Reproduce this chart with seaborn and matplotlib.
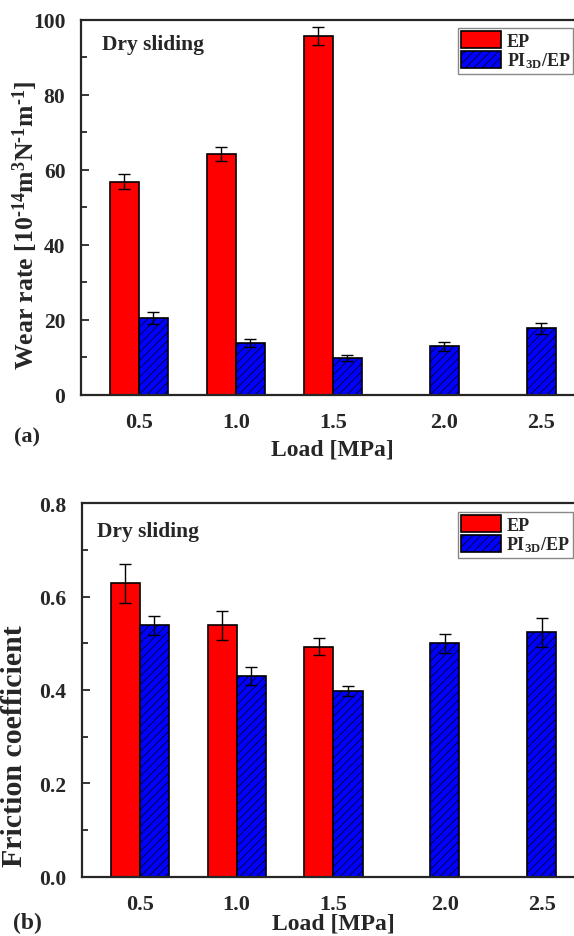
import numpy as np
import pandas as pd
import matplotlib
matplotlib.use("Agg")
import matplotlib.pyplot as plt
import seaborn as sns

# --- Data ---
loads = ["0.5", "1.0", "1.5", "2.0", "2.5"]
samples = ["EP", "PI"]
sample_labels = ["EP", r"PI$_{3D}$/EP"]

wear_ep = [56.8, 64.3, 95.7, np.nan, np.nan]
wear_ep_err = [2.0, 1.8, 2.3, np.nan, np.nan]
wear_pi = [20.5, 13.8, 9.8, 13.0, 17.8]
wear_pi_err = [1.6, 1.0, 0.8, 1.2, 1.5]

fric_ep = [0.628, 0.538, 0.493, np.nan, np.nan]
fric_ep_err = [0.041, 0.030, 0.019, np.nan, np.nan]
fric_pi = [0.538, 0.430, 0.398, 0.500, 0.523]
fric_pi_err = [0.020, 0.019, 0.011, 0.020, 0.030]

colors = {"EP": "#ff0000", "PI": "#0000ff"}


def make_long(ep, ep_err, pi, pi_err):
    rows = []
    for name, vals, errs in [("EP", ep, ep_err), ("PI", pi, pi_err)]:
        for load, v, e in zip(loads, vals, errs):
            if not np.isnan(v):
                rows.append({"Load": load, "Sample": name, "Value": v, "Err": e})
    return pd.DataFrame(rows)


# --- Style ---
sns.set_theme(style="ticks")
plt.rcParams["font.family"] = ["Liberation Serif", "DejaVu Serif"]
plt.rcParams["font.weight"] = "bold"
plt.rcParams["mathtext.fontset"] = "custom"
plt.rcParams["mathtext.rm"] = "Liberation Serif:bold"
plt.rcParams["mathtext.it"] = "Liberation Serif:bold"
plt.rcParams["mathtext.bf"] = "Liberation Serif:bold"
plt.rcParams["mathtext.default"] = "rm"
plt.rcParams["hatch.linewidth"] = 0.5


def draw_panel(ax, df, ylim, major, minor, ylabel, ylabel_size, ylabel_xy, xlabel_y, dry_xy, leg_xy):
    sns.barplot(data=df, x="Load", y="Value", hue="Sample", order=loads, hue_order=samples,
                palette=colors, width=0.6, edgecolor="black", linewidth=1.2,
                errorbar=None, saturation=1, legend=False, ax=ax)
    # hatch + error bars per series
    centers = {}
    for cont, name in zip(ax.containers, samples):
        sub = df[df["Sample"] == name]
        xs = [b.get_x() + b.get_width() / 2 for b in cont]
        hs = [b.get_height() for b in cont]
        if name == "PI":
            for b in cont:
                b.set_hatch("////")
        ax.errorbar(xs, hs, yerr=sub["Err"].values, fmt="none", ecolor="black",
                    elinewidth=1.0, capsize=4, capthick=1.0, zorder=5)
        for x in xs:
            centers.setdefault(int(round(x)), []).append(x)

    # labels sit under the middle of the bars present at each load
    ticks = [np.mean(centers[i]) for i in range(len(loads))]
    ax.set_xticks(ticks)
    ax.set_xticklabels(loads)
    ax.set_xlim(-0.6, 4.6)
    ax.set_ylim(*ylim)
    ax.set_yticks(np.arange(ylim[0], ylim[1] + major / 2, major))
    ax.set_yticks(np.arange(ylim[0], ylim[1] + minor / 2, minor), minor=True)
    if major < 1:
        ax.set_yticklabels([f"{t:.1f}" for t in ax.get_yticks()])

    ax.tick_params(axis="x", length=0, pad=12, labelsize=16)
    ax.tick_params(axis="y", which="major", direction="in", length=6, width=1.3,
                   pad=11, labelsize=15.5)
    ax.tick_params(axis="y", which="minor", direction="in", length=4, width=1.3)
    for s in ax.spines.values():
        s.set_linewidth(1.6)

    ax.set_ylabel(ylabel, fontsize=ylabel_size, fontweight="bold")
    ax.yaxis.set_label_coords(*ylabel_xy)
    ax.set_xlabel("Load [MPa]", fontsize=17, fontweight="bold")
    ax.xaxis.set_label_coords(0.5, xlabel_y)

    ax.text(dry_xy[0], dry_xy[1], "Dry sliding", transform=ax.transAxes,
            fontsize=15.5, fontweight="bold", ha="left", va="center")

    leg = ax.legend(ax.containers, sample_labels, loc="upper left",
                    bbox_to_anchor=leg_xy, borderaxespad=0, fontsize=13,
                    frameon=True, fancybox=False, framealpha=1, edgecolor="#888888",
                    handlelength=2.2, handleheight=1.05, labelspacing=0.05,
                    handletextpad=0.3, borderpad=0.18)
    leg.get_frame().set_linewidth(1.0)


fig = plt.figure(figsize=(5.74, 9.37), dpi=100)
ax1 = fig.add_axes([0.1406, 0.5774, 0.878, 0.4002])
ax2 = fig.add_axes([0.1420, 0.0630, 0.878, 0.3991])

draw_panel(ax1, make_long(wear_ep, wear_ep_err, wear_pi, wear_pi_err),
           (0, 100), 20, 10,
           r"Wear rate [10$^{\text{-14}}$m$^{3}$N$^{\text{-1}}$m$^{\text{-1}}$]", 18.5,
           (-0.081, 0.456), -0.117, (0.042, 0.936), (0.749, 0.979))
draw_panel(ax2, make_long(fric_ep, fric_ep_err, fric_pi, fric_pi_err),
           (0, 0.8), 0.2, 0.1,
           "Friction coefficient", 21.5,
           (-0.106, 0.353), -0.096, (0.031, 0.925), (0.747, 0.976))

fig.text(14 / 574, 1 - 437 / 937, "(a)", fontsize=16, fontweight="bold", ha="left", va="center")
fig.text(13 / 574, 1 - 923 / 937, "(b)", fontsize=17, fontweight="bold", ha="left", va="center")

fig.savefig("out.png", dpi=100)
